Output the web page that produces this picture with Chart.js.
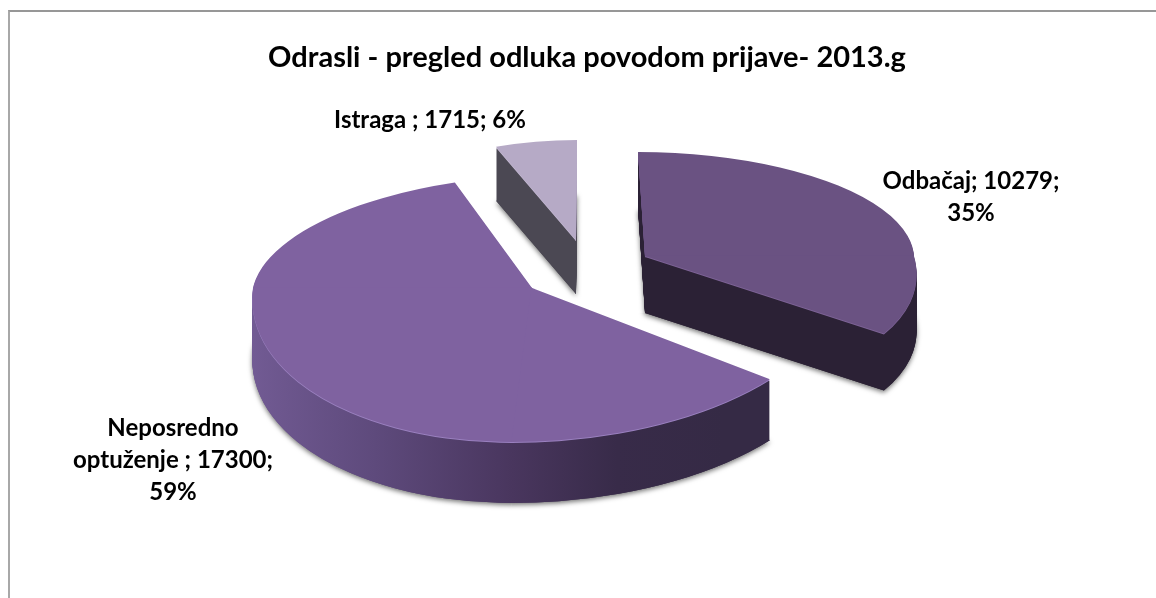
<!DOCTYPE html>
<html>
<head>
<meta charset="utf-8">
<style>
  html, body { margin: 0; padding: 0; background: #fff; overflow: hidden; }
  #okvir { position: absolute; left: 8px; top: 10px; right: 0; bottom: 0; border-top: 2px solid #979797; border-left: 2px solid #a8a8a8; }
  canvas { position: absolute; left: 0; top: 0; }
</style>
</head>
<body>
<div id="okvir"></div>
<canvas id="pita" width="1156" height="598"></canvas>
<script src="https://cdn.jsdelivr.net/npm/chart.js@4"></script>
<script>
const naslov = 'Odrasli - pregled odluka povodom prijave- 2013.g';
const kategorije = ['Odbačaj', 'Neposredno optuženje ', 'Istraga '];
const vrijednosti = [10279, 17300, 1715];
const bojeGore = ['#6a5282', '#7f62a0', '#b6aac6'];
const bojeRuba = ['#7d6396', '#9a80bf', '#c4b9d2'];

// boja bocne strane: lijeva i desna polovina kriske
const bocnoLijevo = [['#2b2135', '#2b2135'], ['#725b94', '#5e4a7c', '#49365e'], ['#4b4853', '#4b4853']];
const bocnoDesno = [['#2b2135', '#2b2135'], ['#49365e', '#382b49', '#352a45', '#352a45'], ['#4b4853', '#4b4853']];

// gdje je vrh kriske i kako je "polozena" (3d pogled)
const polozaj = [
  { x: 645, y: 256, rxL: 269, rxR: 269, ryT: 104, ryB: 131, kT: 0.067, kB: 0.286, dubina: 57 },
  { x: 532, y: 288, rxL: 279, rxR: 310, ryT: 113, ryB: 154, kT: -0.22, kB: -0.13, dubina: 61 },
  { x: 576, y: 240, rxL: 225, rxR: 225, ryT: 100, ryB: 100, kT: -0.01, kB: 0, dubina: 54 }
];
const redCrtanja = [2, 0, 1];

// tekst oznaka
const oznake = [
  { x: 971, y: 181, sirina: 215 },
  { x: 173, y: 428, sirina: 215 },
  { x: 430, y: 120, sirina: 260 }
];
const fontOznake = 'bold 24px Lato';
const razmakReda = 32;

function crtajSloj(ctx, luk, p, pomak, boja, preklop) {
  const R = luk.outerRadius;
  [-1, 1].forEach(function (strana) {
    [-1, 1].forEach(function (gore) {
      const rx = strana < 0 ? p.rxL : p.rxR;
      const ry = gore < 0 ? p.ryT : p.ryB;
      const k = gore < 0 ? p.kT : p.kB;
      const a = rx / R, c = k * ry / R, d = ry / R;
      ctx.save();
      ctx.transform(a, 0, c, d, p.x - a * luk.x - c * luk.y, p.y + pomak - d * luk.y);
      ctx.beginPath();
      ctx.rect(strana < 0 ? luk.x - 3 * R : luk.x - preklop, gore < 0 ? luk.y - 3 * R : luk.y - preklop, 3 * R + preklop, 3 * R + preklop);
      ctx.clip();
      const dio = Object.create(luk);
      dio.options = Object.assign({}, luk.options, {
        backgroundColor: typeof boja === 'function' ? boja(strana) : boja,
        borderWidth: 0
      });
      dio.draw(ctx);
      ctx.restore();
    });
  });
}

const pita3d = {
  id: 'pita3d',
  beforeDatasetsDraw(chart) {
    const ctx = chart.ctx;
    const lukovi = chart.getDatasetMeta(0).data;
    redCrtanja.forEach(function (i) {
      const luk = lukovi[i], p = polozaj[i], R = luk.outerRadius;
      const bocna = function (strana) {
        const g = strana < 0
          ? ctx.createLinearGradient(luk.x - R, 0, luk.x, 0)
          : ctx.createLinearGradient(luk.x, 0, luk.x + R, 0);
        const boje = strana < 0 ? bocnoLijevo[i] : bocnoDesno[i];
        boje.forEach(function (b, j) { g.addColorStop(j / (boje.length - 1), b); });
        return g;
      };
      ctx.save();
      ctx.shadowColor = 'rgba(0,0,0,0.55)';
      ctx.shadowBlur = 5;
      ctx.shadowOffsetY = 2;
      crtajSloj(ctx, luk, p, p.dubina, bocna, 0);
      ctx.restore();
      for (let d = p.dubina; d >= 2; d--) {
        crtajSloj(ctx, luk, p, d, bocna, 0.6);
      }
      crtajSloj(ctx, luk, p, 1, bojeRuba[i], 0.6);
      crtajSloj(ctx, luk, p, 0, bojeGore[i], 0.6);
    });
    return false;
  },
  afterDraw(chart) {
    const ctx = chart.ctx;
    const ukupno = vrijednosti.reduce(function (a, b) { return a + b; }, 0);
    ctx.save();
    ctx.font = fontOznake;
    ctx.fillStyle = '#000';
    ctx.textAlign = 'center';
    ctx.textBaseline = 'middle';
    kategorije.forEach(function (ime, i) {
      const tekst = ime + '; ' + vrijednosti[i] + '; ' + Math.round(vrijednosti[i] / ukupno * 100) + '%';
      const redovi = [];
      let red = '';
      tekst.split(' ').forEach(function (rijec) {
        const probni = red ? red + ' ' + rijec : rijec;
        if (red && ctx.measureText(probni).width > oznake[i].sirina) {
          redovi.push(red);
          red = rijec;
        } else {
          red = probni;
        }
      });
      redovi.push(red);
      redovi.forEach(function (r, j) {
        ctx.fillText(r, oznake[i].x, oznake[i].y + j * razmakReda);
      });
    });
    ctx.restore();
  }
};

new Chart(document.getElementById('pita'), {
  type: 'pie',
  data: {
    labels: kategorije,
    datasets: [{ data: vrijednosti, backgroundColor: bojeGore, borderWidth: 0 }]
  },
  options: {
    responsive: false,
    animation: false,
    layout: { padding: { left: 18, top: 40 } },
    plugins: {
      legend: { display: false },
      tooltip: { enabled: false },
      title: {
        display: true,
        text: naslov,
        color: '#000',
        font: { family: 'Lato', size: 29, weight: 'bold' },
        padding: { top: 0, bottom: 10 }
      }
    }
  },
  plugins: [pita3d]
});
</script>
</body>
</html>
